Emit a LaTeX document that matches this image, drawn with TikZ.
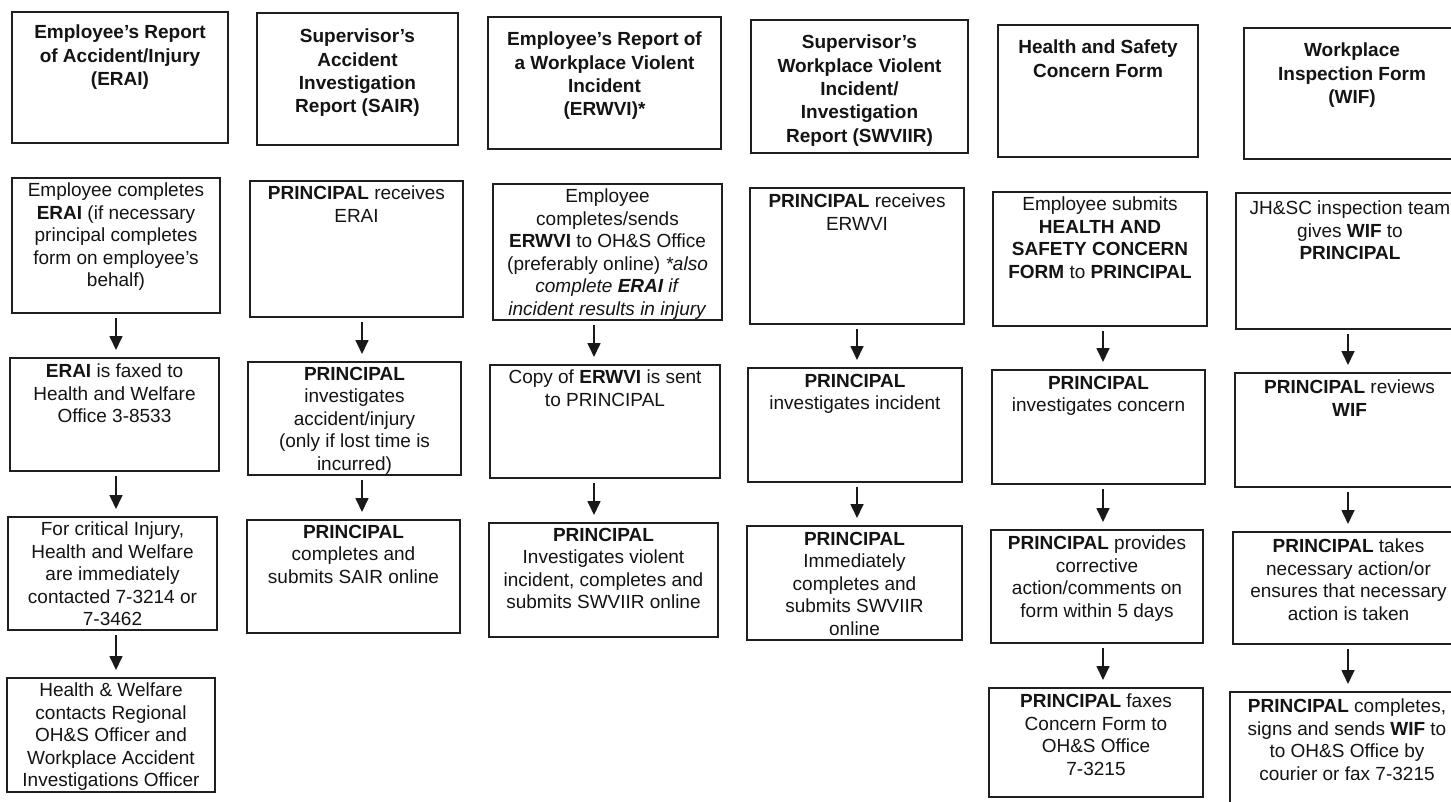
\documentclass[tikz,border=0pt]{standalone}
\usepackage{fontspec}
\setmainfont{Liberation Sans}
\usetikzlibrary{arrows.meta}
\tikzset{
  bx/.style={draw=black!88, line width=1.8pt, inner sep=0pt, outer sep=0pt, fill=white},
  txt/.style={font=\fontsize{19}{22.5}\selectfont, align=center, inner sep=0pt, text=black!92},
  htxt/.style={txt, font=\fontsize{19}{23.3}\selectfont\bfseries},
  arr/.style={draw=black!90, line width=1.7pt, -{Triangle[width=13pt,length=14pt]}, shorten <=5pt, shorten >=8pt}
}
% name, x1, y1, x2, y2, text offset, text
\newcommand{\fbx}[7]{%
  \node[bx, minimum width={#4-#2}, minimum height={#5-#3}] (#1) at ({(#2+#4)/2},{(#3+#5)/2}) {};
  \node[txt, anchor=north] (#1t) at ([yshift=-#6pt]#1.north) {#7};%
}
\newcommand{\hbx}[7]{%
  \node[bx, minimum width={#4-#2}, minimum height={#5-#3}] (#1) at ({(#2+#4)/2},{(#3+#5)/2}) {};
  \node[htxt, anchor=north] (#1t) at ([yshift=-#6pt]#1.north) {#7};%
}
\begin{document}
\begin{tikzpicture}[x=1pt, y=-1pt]
\clip (0,0) rectangle (1451,802);
\fill[white] (0,0) rectangle (1451,802);

% ---------- column 1 ----------
\hbx{c1h}{12}{12}{228}{143}{13}{Employee's Report\\ of Accident/Injury\\ (ERAI)}
\fbx{c1b}{12}{178}{220}{313}{5}{Employee completes\\ \textbf{ERAI} (if necessary\\ principal completes\\ form on employee's\\ behalf)}
\fbx{c1c}{10}{358}{219}{471}{6}{\textbf{ERAI} is faxed to\\ Health and Welfare\\ Office 3-8533}
\fbx{c1d}{8}{517}{217}{630}{5}{For critical Injury,\\ Health and Welfare\\ are immediately\\ contacted 7-3214 or\\ 7-3462}
\fbx{c1e}{7}{678}{215}{792}{5}{Health \& Welfare\\ contacts Regional\\ OH\&S Officer and\\ Workplace Accident\\ Investigations Officer}

% ---------- column 2 ----------
\hbx{c2h}{257}{13}{458}{145}{16}{Supervisor's\\ Accident\\ Investigation\\ Report (SAIR)}
\fbx{c2b}{250}{181}{463}{317}{5}{\textbf{PRINCIPAL} receives\\ ERAI}
\fbx{c2c}{248}{362}{461}{475}{5}{\textbf{PRINCIPAL}\\ investigates\\ accident/injury\\ (only if lost time is\\ incurred)}
\fbx{c2d}{247}{520}{460}{633}{5}{\textbf{PRINCIPAL}\\ completes and\\ submits SAIR online}

% ---------- column 3 ----------
\hbx{c3h}{488}{17}{721}{149}{15}{Employee's Report of\\ a Workplace Violent\\ Incident\\ (ERWVI)*}
\fbx{c3b}{493}{184}{722}{320}{5}{Employee\\ completes/sends\\ \textbf{ERWVI} to OH\&S Office\\ (preferably online) \textit{*also}\\ \textit{complete \textbf{ERAI} if}\\ \textit{incident results in injury}}
\fbx{c3c}{490}{365}{720}{478}{5}{Copy of \textbf{ERWVI} is sent\\ to PRINCIPAL}
\fbx{c3d}{489}{523}{718}{637}{5}{\textbf{PRINCIPAL}\\ Investigates violent\\ incident, completes and\\ submits SWVIIR online}

% ---------- column 4 ----------
\hbx{c4h}{751}{20}{968}{153}{15}{Supervisor's\\ Workplace Violent\\ Incident/\\ Investigation\\ Report (SWVIIR)}
\fbx{c4b}{750}{188}{964}{324}{6}{\textbf{PRINCIPAL} receives\\ ERWVI}
\fbx{c4c}{748}{368}{962}{482}{6}{\textbf{PRINCIPAL}\\ investigates incident}
\fbx{c4d}{747}{526}{962}{640}{6}{\textbf{PRINCIPAL}\\ Immediately\\ completes and\\ submits SWVIIR\\ online}

% ---------- column 5 ----------
\hbx{c5h}{998}{25}{1198}{157}{15}{Health and Safety\\ Concern Form}
\fbx{c5b}{993}{192}{1207}{326}{5}{Employee submits\\ \textbf{HEALTH AND}\\ \textbf{SAFETY CONCERN}\\ \textbf{FORM} to \textbf{PRINCIPAL}}
\fbx{c5c}{992}{370}{1205}{484}{6}{\textbf{PRINCIPAL}\\ investigates concern}
\fbx{c5d}{991}{530}{1203}{643}{6}{\textbf{PRINCIPAL} provides\\ corrective\\ action/comments on\\ form within 5 days}
\fbx{c5e}{989}{688}{1203}{797}{6}{\textbf{PRINCIPAL} faxes\\ Concern Form to\\ OH\&S Office\\ 7-3215}

% ---------- column 6 ----------
\hbx{c6h}{1244}{28}{1460}{159}{15}{Workplace\\ Inspection Form\\ (WIF)}
\fbx{c6b}{1236}{193}{1464}{329}{8}{JH\&SC inspection team\\ gives \textbf{WIF} to\\ \textbf{PRINCIPAL}}
\fbx{c6c}{1235}{373}{1464}{487}{7}{\textbf{PRINCIPAL} reviews\\ \textbf{WIF}}
\fbx{c6d}{1233}{532}{1464}{644}{7}{\textbf{PRINCIPAL} takes\\ necessary action/or\\ ensures that necessary\\ action is taken}
\fbx{c6e}{1230}{692}{1464}{812}{7}{\textbf{PRINCIPAL} completes,\\ signs and sends \textbf{WIF} to\\ to OH\&S Office by\\ courier or fax 7-3215}

% ---------- arrow axes ----------
\coordinate (ax1) at (116,0);
\coordinate (ax2) at (362,0);
\coordinate (ax3) at (594,0);
\coordinate (ax4) at (857,0);
\coordinate (ax5) at (1103,0);
\coordinate (ax6) at (1348,0);

\draw[arr] (c1b.south -| ax1) -- (c1c.north -| ax1);
\draw[arr] (c1c.south -| ax1) -- (c1d.north -| ax1);
\draw[arr] (c1d.south -| ax1) -- (c1e.north -| ax1);

\draw[arr] (c2b.south -| ax2) -- (c2c.north -| ax2);
\draw[arr] (c2c.south -| ax2) -- (c2d.north -| ax2);

\draw[arr] (c3b.south -| ax3) -- (c3c.north -| ax3);
\draw[arr] (c3c.south -| ax3) -- (c3d.north -| ax3);

\draw[arr] (c4b.south -| ax4) -- (c4c.north -| ax4);
\draw[arr] (c4c.south -| ax4) -- (c4d.north -| ax4);

\draw[arr] (c5b.south -| ax5) -- (c5c.north -| ax5);
\draw[arr] (c5c.south -| ax5) -- (c5d.north -| ax5);
\draw[arr] (c5d.south -| ax5) -- (c5e.north -| ax5);

\draw[arr] (c6b.south -| ax6) -- (c6c.north -| ax6);
\draw[arr] (c6c.south -| ax6) -- (c6d.north -| ax6);
\draw[arr] (c6d.south -| ax6) -- (c6e.north -| ax6);
\end{tikzpicture}
\end{document}
